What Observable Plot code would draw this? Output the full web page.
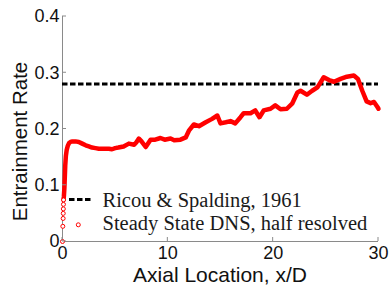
<!DOCTYPE html>
<html><head><meta charset="utf-8">
<script src="https://cdn.jsdelivr.net/npm/d3@7"></script>
<script src="https://cdn.jsdelivr.net/npm/@observablehq/plot@0.6"></script>
<style>body{margin:0;background:#fff} svg{display:block}</style>
</head><body><div id="chart"></div>
<script>
const xTicks = [0, 10, 20, 30];
const yTicks = [0, 0.1, 0.2, 0.3, 0.4];
const yTickLabels = ["0", "0.1", "0.2", "0.3", "0.4"];
const ricouValue = 0.28;
const xLabel = "Axial Location, x/D";
const yLabel = "Entrainment Rate";
const legendLabels = ["Ricou & Spalding, 1961", "Steady State DNS, half resolved"];

const dnsX = [0, 0.03, 0.06, 0.07, 0.08, 0.09, 0.1, 0.13, 0.18, 0.22, 0.26, 0.32, 0.4, 0.5, 0.62, 0.76, 0.95,
  1.23, 1.55, 1.87, 2.2, 2.5, 2.8, 3.13, 3.45, 3.77, 4.1, 4.4, 4.7, 5.0, 5.3, 5.8, 6.3, 6.8, 7.0, 7.25, 7.5, 7.9,
  8.36, 8.8, 9.3, 9.7, 10.26, 10.6, 11.2, 11.7, 12.0, 12.47, 12.95, 13.6, 14.2, 14.7, 15.0, 15.5, 15.95, 16.4,
  16.9, 17.2, 17.85, 18.3, 18.7, 19.1, 19.75, 20.2, 20.7, 21.3, 21.8, 22.3, 22.6, 23.2, 23.7, 24.2, 24.8, 25.3,
  25.77, 26.4, 27.0, 27.66, 28.05, 28.46, 28.87, 29.25, 29.57, 29.9, 30];
const dnsY = [0, 0.027, 0.041, 0.05, 0.058, 0.066, 0.074, 0.08, 0.095, 0.115, 0.135, 0.152, 0.163, 0.17, 0.175, 0.177, 0.178,
  0.178, 0.177, 0.174, 0.171, 0.169, 0.167, 0.166, 0.165, 0.165, 0.165, 0.165, 0.164, 0.166, 0.167, 0.169, 0.174, 0.172, 0.176, 0.183, 0.178, 0.168,
  0.181, 0.181, 0.184, 0.181, 0.183, 0.180, 0.181, 0.185, 0.197, 0.208, 0.205, 0.212, 0.218, 0.224, 0.21, 0.212, 0.214, 0.21,
  0.221, 0.228, 0.228, 0.233, 0.221, 0.233, 0.236, 0.242, 0.235, 0.236, 0.245, 0.265, 0.268, 0.261, 0.268, 0.274, 0.292, 0.287,
  0.284, 0.289, 0.293, 0.295, 0.289, 0.268, 0.249, 0.246, 0.248, 0.239, 0.236];
const sparseCount = 7; // first samples appear as separate markers

const dns = dnsX.map((x, i) => ({x, y: dnsY[i]}));

const plot = Plot.plot({
  width: 390, height: 289,
  marginLeft: 62, marginRight: 12, marginTop: 16, marginBottom: 48,
  style: {fontFamily: "'Liberation Sans', Arial, sans-serif", fontSize: "18px", color: "#111", background: "#fff"},
  x: {domain: [0, 30]},
  y: {domain: [0, 0.4]},
  marks: [
    Plot.ruleX([0], {stroke: "#8a8a8a", strokeWidth: 1}),
    Plot.ruleY([0], {stroke: "#8a8a8a", strokeWidth: 1}),
    Plot.axisX(xTicks, {tickSize: 0, tickPadding: 5, fontSize: 18, label: null}),
    Plot.axisY(yTicks, {tickSize: 0, tickPadding: 3, fontSize: 18, label: null,
      tickFormat: d => yTickLabels[yTicks.indexOf(d)]}),
    Plot.ruleY([ricouValue], {x1: 0, x2: 30, stroke: "#000", strokeWidth: 3, strokeDasharray: "5.5,2.5"}),
    Plot.line(dns.slice(sparseCount - 1), {x: "x", y: "y", stroke: "#ff0000", strokeWidth: 4.5,
      strokeLinejoin: "round", strokeLinecap: "round"}),
    Plot.dot(dns.slice(0, sparseCount), {x: "x", y: "y", r: 2, stroke: "#ff0000", strokeWidth: 1, fill: "#fff"})
  ]
});

const sx = plot.scale("x"), sy = plot.scale("y");
const svg = d3.select(plot);
const tg = svg.append("g").attr("stroke", "#8a8a8a").attr("stroke-width", 1);
xTicks.forEach(t => tg.append("line")
  .attr("x1", sx.apply(t)).attr("x2", sx.apply(t))
  .attr("y1", sy.apply(0)).attr("y2", sy.apply(0) - 4));
yTicks.forEach(t => tg.append("line")
  .attr("x1", sx.apply(0)).attr("x2", sx.apply(0) + 4)
  .attr("y1", sy.apply(t)).attr("y2", sy.apply(t)));

// axis titles
svg.append("text").attr("x", (sx.apply(0) + sx.apply(30)) / 2).attr("y", 281.5)
  .attr("text-anchor", "middle").attr("fill", "#111")
  .style("font", "21px 'Liberation Sans', Arial, sans-serif").text(xLabel);
svg.append("text").attr("transform", "translate(26.5,141.5) rotate(-90)")
  .attr("text-anchor", "middle").attr("fill", "#111")
  .style("font", "20.5px 'Liberation Sans', Arial, sans-serif").text(yLabel);

// legend
const lg = svg.append("g").attr("text-anchor", "start")
  .style("font", "20.5px 'Liberation Serif', 'Times New Roman', serif").attr("fill", "#1a1a1a");
lg.append("line").attr("x1", 69).attr("x2", 90.5).attr("y1", 199.5).attr("y2", 199.5)
  .attr("stroke", "#000").attr("stroke-width", 3).attr("stroke-dasharray", "5.5,2.5");
lg.append("circle").attr("cx", 78.3).attr("cy", 224.8).attr("r", 2).attr("fill", "#fff")
  .attr("stroke", "#ff0000").attr("stroke-width", 1);
lg.append("text").attr("x", 102.5).attr("y", 206.7).text(legendLabels[0]);
lg.append("text").attr("x", 102.5).attr("y", 230).text(legendLabels[1]);

document.getElementById("chart").appendChild(plot);
</script>
</body></html>
